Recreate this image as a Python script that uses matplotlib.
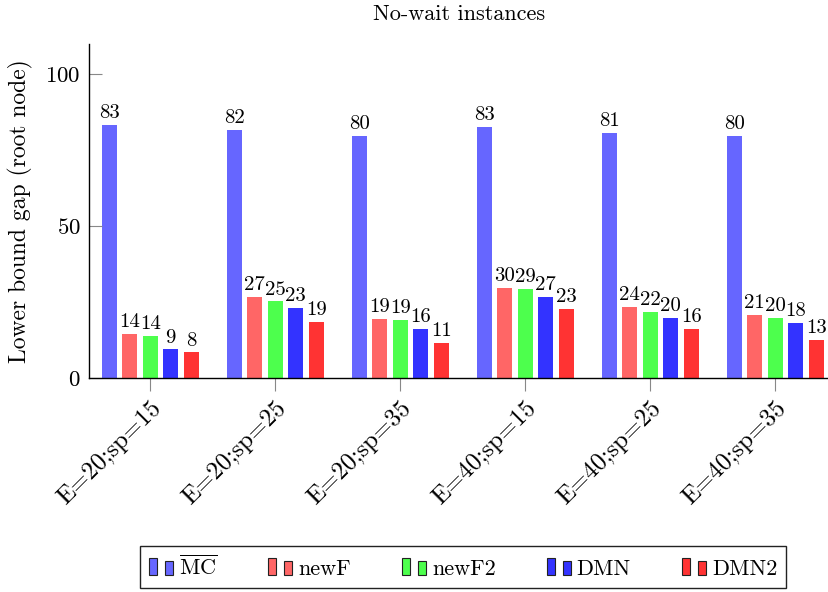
import matplotlib
matplotlib.use("Agg")
import matplotlib.pyplot as plt
from matplotlib.legend_handler import HandlerBase
from matplotlib.patches import Rectangle
import numpy as np

# === Data ===
categories = ["E=20;sp=15", "E=20;sp=25", "E=20;sp=35",
              "E=40;sp=15", "E=40;sp=25", "E=40;sp=35"]
mc = [83.2, 81.8, 79.6, 82.7, 80.6, 79.6]
newF = [14.4, 26.6, 19.4, 29.8, 23.5, 20.8]
newF2 = [13.7, 25.2, 19.1, 29.2, 21.8, 19.7]
dmn = [9.4, 23.0, 16.1, 26.6, 19.9, 18.1]
dmn2 = [8.4, 18.6, 11.4, 22.8, 16.0, 12.6]

series = [mc, newF, newF2, dmn, dmn2]
names = [r"$\overline{\mathrm{MC}}$", "newF", "newF2", "DMN", "DMN2"]
colors = ["#6666ff", "#ff6666", "#4dff4d", "#3333ff", "#ff3333"]

plt.rcParams["font.family"] = ["cmr10", "DejaVu Serif"]
plt.rcParams["mathtext.fontset"] = "cm"
plt.rcParams["axes.formatter.use_mathtext"] = True


class TwoBarHandler(HandlerBase):
    """pgfplots-like ybar legend image: two small bars."""
    def create_artists(self, legend, orig_handle, xdescent, ydescent,
                       width, height, fontsize, trans):
        fc = orig_handle.get_facecolor()
        w = width * 0.33
        r1 = Rectangle((-xdescent, 0), w, fontsize * 0.8,
                       facecolor=fc, edgecolor="#222222", lw=0.8, transform=trans)
        r2 = Rectangle((-xdescent + width * 0.67, 0), w, fontsize * 0.63,
                       facecolor=fc, edgecolor="#222222", lw=0.8, transform=trans)
        return [r1, r2]


fig = plt.figure(figsize=(8.29, 5.92), dpi=100)
ax = fig.add_axes([0.1074, 0.3615, 0.8926, 0.5642])

x = np.arange(len(categories))
bw = 0.12
pitch = 0.164
handles = []
for i, (vals, name, c) in enumerate(zip(series, names, colors)):
    pos = x + (i - 2) * pitch
    bars = ax.bar(pos, vals, width=bw, color=c, edgecolor="none", label=name)
    handles.append(bars.patches[0])
    for p, v in zip(pos, vals):
        ax.annotate(f"{round(v):d}", (p, v), xytext=(0, 5), textcoords="offset points",
                    ha="center", va="baseline", fontsize=15)

ax.set_xlim(-0.49, 5.43)
ax.set_ylim(0, 110)
ax.set_yticks([0, 50, 100])
ax.set_xticks(x)
ax.set_xticklabels(categories, rotation=45, ha="right", rotation_mode="anchor")
ax.tick_params(axis="y", direction="in", length=9.5, width=0.8, color="#888888",
               labelsize=16.5, pad=6)
ax.tick_params(axis="x", direction="out", length=9.5, width=0.8, color="#888888",
               labelsize=18, pad=4)
for s in ["top", "right"]:
    ax.spines[s].set_visible(False)
for s in ["left", "bottom"]:
    ax.spines[s].set_linewidth(1.0)

ax.set_ylabel("Lower bound gap (root node)", fontsize=17, labelpad=9)
ax.set_title("No-wait instances", fontsize=16, pad=17)

fig.legend(handles, names, handler_map={Rectangle: TwoBarHandler()},
           loc="center", bbox_to_anchor=(0.5586, 0.0417), ncol=5, fontsize=16,
           frameon=True, fancybox=False, edgecolor="#222222", framealpha=1,
           handlelength=1.09, handleheight=1.1, handletextpad=0.26,
           columnspacing=2.3, borderpad=0.4)

fig.savefig("out.png", dpi=100)
